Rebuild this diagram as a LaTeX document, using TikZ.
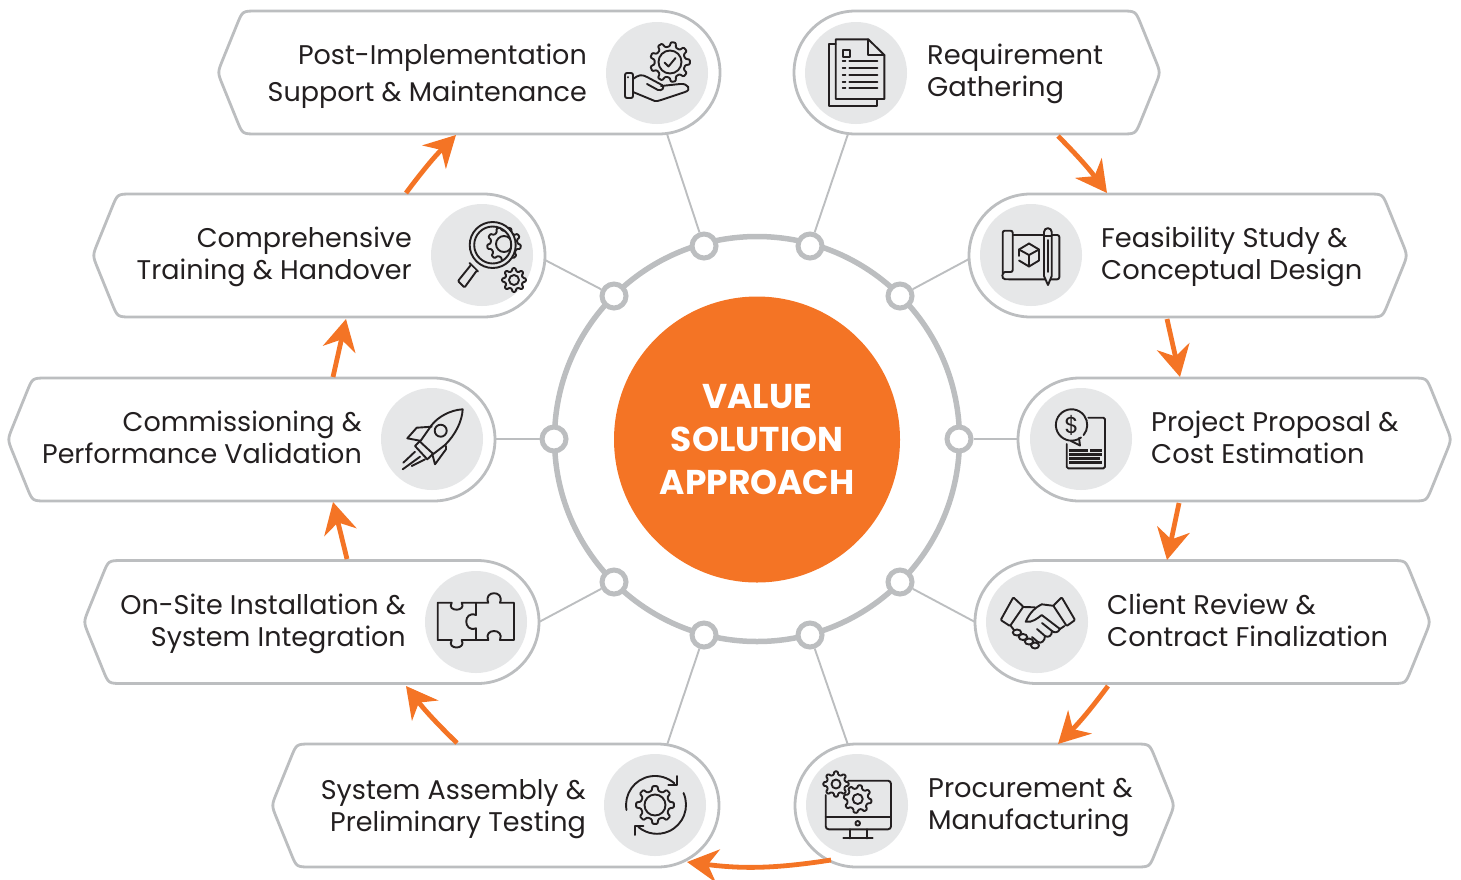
\documentclass[tikz,border=0pt]{standalone}
\usepackage{fontspec}
\setmainfont[FakeStretch=1.012]{Poppins}
\newfontfamily\titlefont{Poppins}
\usetikzlibrary{arrows.meta,calc}
\definecolor{ringgray}{HTML}{BCBEC0}
\definecolor{icobg}{HTML}{E6E7E8}
\definecolor{accent}{HTML}{F47425}
\definecolor{ink}{HTML}{231F20}
\tikzset{
  pillbox/.style={draw=ringgray,line width=2.8pt,fill=white,line join=round},
  iconbase/.style={circle,fill=icobg,minimum size=102pt,inner sep=0pt},
  hub/.style={circle,draw=ringgray,line width=5pt,fill=white,minimum size=24pt,inner sep=0pt},
  spoke/.style={draw=ringgray,line width=1.9pt},
  flow/.style={draw=accent,line width=4.8pt,-{Stealth[length=31pt,width=33pt,inset=10pt]}},
  ico/.style={draw=ink,line width=1.9pt,line join=round,line cap=round},
  lbl/.style={inner sep=0pt,text=ink},
  lblL/.style={lbl,anchor=west,align=left,font=\fontsize{27}{32}\selectfont},
  lblR/.style={lbl,anchor=east,align=right,font=\fontsize{27}{32}\selectfont\titlefont},
}
% pill with round end at right, tip at left
\newcommand\pillR[3]{%tip x, right x, centre y
  \draw[pillbox] (#2-61.5,#3-61.5) -- (#1+38.5,#3-61.5) .. controls (#1+24.5,#3-61.5) .. (#1+19.2,#3-48.5)
    -- (#1+4.8,#3-13) .. controls (#1-0.5,#3) .. (#1+4.8,#3+13)
    -- (#1+19.2,#3+48.5) .. controls (#1+24.5,#3+61.5) .. (#1+38.5,#3+61.5)
    -- (#2-61.5,#3+61.5) arc[start angle=90,end angle=-90,radius=61.5] -- cycle;}
\newcommand\pillL[3]{%left x, tip x, centre y
  \draw[pillbox] (#1+61.5,#3-61.5) -- (#2-38.5,#3-61.5) .. controls (#2-24.5,#3-61.5) .. (#2-19.2,#3-48.5)
    -- (#2-4.8,#3-13) .. controls (#2+0.5,#3) .. (#2-4.8,#3+13)
    -- (#2-19.2,#3+48.5) .. controls (#2-24.5,#3+61.5) .. (#2-38.5,#3+61.5)
    -- (#1+61.5,#3+61.5) arc[start angle=90,end angle=270,radius=61.5] -- cycle;}
% gear outline
\newcommand\gearicon[6]{%x,y,ro,ri,teeth,rot
  \pgfmathsetmacro\gs{360/#5}\pgfmathtruncatemacro\gn{#5-1}
  \draw[ico,fill=icobg,rounded corners=0.9pt] ({#1+#4*cos(#6-0.30*\gs)},{#2+#4*sin(#6-0.30*\gs)})
   \foreach \gi in {0,...,\gn}{
    -- ({#1+#4*cos(#6+\gi*\gs-0.30*\gs)},{#2+#4*sin(#6+\gi*\gs-0.30*\gs)})
    -- ({#1+#3*cos(#6+\gi*\gs-0.17*\gs)},{#2+#3*sin(#6+\gi*\gs-0.17*\gs)})
    -- ({#1+#3*cos(#6+\gi*\gs+0.17*\gs)},{#2+#3*sin(#6+\gi*\gs+0.17*\gs)})
    -- ({#1+#4*cos(#6+\gi*\gs+0.30*\gs)},{#2+#4*sin(#6+\gi*\gs+0.30*\gs)})
   } -- cycle;}
\begin{document}
\begin{tikzpicture}[x=1pt,y=-1pt]
\useasboundingbox (0,0) rectangle (1461,879);
% ring
\node[circle,draw=ringgray,line width=5.5pt,minimum size=405pt,inner sep=0pt] (ring) at (757,439) {};
% hubs
\node[hub] (h1) at (704,246) {};
\node[hub] (h2) at (810,246) {};
\node[hub] (h3) at (900,296) {};
\node[hub] (h4) at (959,439) {};
\node[hub] (h5) at (900,582) {};
\node[hub] (h6) at (810,635) {};
\node[hub] (h7) at (704,635) {};
\node[hub] (h8) at (614,582) {};
\node[hub] (h9) at (554,439) {};
\node[hub] (h10) at (614,296) {};
% spoke ends
\coordinate (s1) at (667,134); \coordinate (s2) at (848,134);
\coordinate (s3) at (969,259); \coordinate (s4) at (1018,439);
\coordinate (s5) at (975,622); \coordinate (s6) at (848,745);
\coordinate (s7) at (667,745); \coordinate (s8) at (539,622);
\coordinate (s9) at (495,439); \coordinate (s10) at (545,260);
\foreach \i in {1,...,10} \draw[spoke] (h\i) -- (s\i);
% centre
\node[circle,fill=accent,minimum size=286pt,inner sep=0pt,text=white,align=center,font=\fontsize{34.4}{42.6}\selectfont\titlefont\bfseries] (core) at (757,439.5) {VALUE\\SOLUTION\\APPROACH};
% pills
\pillR{218}{720}{72.5}
\pillR{93}{545}{255.5}
\pillR{8}{495}{439.5}
\pillR{84}{539}{622}
\pillR{272}{719}{805.5}
\pillL{794}{1160}{72.5}
\pillL{969}{1407}{255.5}
\pillL{1018}{1451}{439.5}
\pillL{975}{1430}{622}
\pillL{795}{1174}{805.5}
% icon discs
\node[iconbase] (i1) at (657,73) {};
\node[iconbase] (i2) at (856,73) {};
\node[iconbase] (i3) at (1031,255) {};
\node[iconbase] (i4) at (1081,439) {};
\node[iconbase] (i5) at (1037,622) {};
\node[iconbase] (i6) at (857,805) {};
\node[iconbase] (i7) at (655,805) {};
\node[iconbase] (i8) at (476,622) {};
\node[iconbase] (i9) at (432,439) {};
\node[iconbase] (i10) at (482,255) {};
% labels
\node[lblR,font=\fontsize{27}{37}\selectfont\titlefont] (t1) at (587,76.5) {Post-Implementation\\Support \& Maintenance};
\node[lblR] (t2) at (412,257) {Comprehensive\\Training \& Handover};
\node[lblR] (t3) at (362,437) {Commissioning \&\\Performance Validation};
\node[lblR] (t4) at (406,623.5) {On-Site Installation \&\\System Integration};
\node[lblR] (t5) at (586,809) {System Assembly \&\\Preliminary Testing};
\node[lblL] (t6) at (927,74) {Requirement\\Gathering};
\node[lblL] (t7) at (1101,257) {Feasibility Study \&\\Conceptual Design};
\node[lblL] (t8) at (1151,437) {Project Proposal \&\\Cost Estimation};
\node[lblL] (t9) at (1107,620) {Client Review \&\\Contract Finalization};
\node[lblL] (t10) at (928,807.5) {Procurement \&\\Manufacturing};
% flow arrows
\coordinate (a1s) at (1058,136); \coordinate (a1e) at (1107,193);
\coordinate (a2s) at (1167,319); \coordinate (a2e) at (1180,377);
\coordinate (a3s) at (1179,503); \coordinate (a3e) at (1167,560);
\coordinate (a4s) at (1108,686); \coordinate (a4e) at (1058,744);
\coordinate (a5s) at (831,860); \coordinate (a5e) at (687,862);
\coordinate (a6s) at (457,743); \coordinate (a6e) at (406,686);
\coordinate (a7s) at (347,559); \coordinate (a7e) at (333,502);
\coordinate (a8s) at (333,377); \coordinate (a8e) at (346,319);
\coordinate (a9s) at (406,193); \coordinate (a9e) at (456,135);
\draw[flow] (a1s) to[bend left=4] (a1e);
\draw[flow] (a2s) -- (a2e);
\draw[flow] (a3s) -- (a3e);
\draw[flow] (a4s) to[bend left=4] (a4e);
\draw[flow] (a5s) to[bend left=8] (a5e);
\draw[flow] (a6s) to[bend left=4] (a6e);
\draw[flow] (a7s) -- (a7e);
\draw[flow] (a8s) -- (a8e);
\draw[flow] (a9s) to[bend left=4] (a9e);
% --- icon: hand & gear
\gearicon{670}{62}{20}{15.5}{9}{0}
\draw[ico] (670,62) circle (11.5);
\draw[ico] (664.5,62.5) -- (668.5,66.5) -- (675.5,58);
\draw[ico,rounded corners=2pt] (625,73) rectangle (633,98);
\draw[ico] (628,77) -- (628,77.5);
\draw[ico] (633,79) .. controls (638,75) and (642,74) .. (647,77) -- (662,85) .. controls (665,88) and (662,91) .. (658,90) -- (647,84);
\draw[ico] (661,86) -- (680,84) .. controls (688,83) and (692,90) .. (685,92) -- (661,100) .. controls (656,102) and (653,101) .. (650,99) -- (633,92);
% --- icon: documents
\draw[ico] (835.7,44.3) -- (829,44.3) -- (829,106) -- (877.3,106) -- (877.3,99);
\draw[ico] (835.7,39.3) -- (868.3,39.3) -- (884.3,55) -- (884.3,99) -- (835.7,99) -- cycle;
\draw[ico] (868.3,39.3) -- (868.3,55) -- (884.3,55);
\draw[ico] (842.7,50) rectangle (850,57.3);
\foreach \yy in {61.3,68,75,81.7,88.3} {
  \draw[ico] (842.7,\yy) -- (845.5,\yy);
  \draw[ico] (849.3,\yy) -- (877.3,\yy);}
% --- icon: magnifier & gears
\gearicon{504}{244}{17}{13.5}{9}{10}
\draw[ico] (504,244) circle (8);
\draw[line width=4pt,draw=icobg] (492.7,245) circle (21);
\draw[ico] (492.7,245) circle (23);
\draw[ico] (492.7,245) circle (18.5);
\draw[ico] (469.5,263) -- (478,271.5);
\draw[ico,rounded corners=1pt,fill=icobg] (470.5,265.5) -- (458,281) -- (464.5,287.5) -- (476.5,271);
\gearicon{514}{280}{12}{9}{8}{0}
\draw[ico] (514,280) circle (5);
% --- icon: scroll with cube and pencil
\draw[ico,rounded corners=2pt] (1012.7,235) -- (1059.3,235) -- (1059.3,279.3) -- (1007,279.3) .. controls (1001,279) and (1002,272) .. (1007,272) -- (1012.7,272) -- (1012.7,230.7) -- (1002.7,230.7) -- (1002.7,275);
\draw[ico] (1029,243.5) -- (1039,249.5) -- (1039,260.5) -- (1029,266.5) -- (1019,260.5);
\draw[ico] (1019,256) -- (1019,249.5) -- (1029,243.5);
\draw[ico] (1019,249.5) -- (1029,255) -- (1039,249.5);
\draw[ico] (1029,255) -- (1029,266.5);
\draw[ico,fill=icobg] (1044,232) arc[start angle=180,end angle=360,radius=3.85] -- (1051.7,276) -- (1048,285) -- (1044,276) -- cycle;
\draw[ico] (1044,236) -- (1051.7,236) (1047.8,240) -- (1047.8,272);
% --- icon: quote with dollar
\draw[ico,rounded corners=1.5pt] (1088.3,417.7) -- (1105,417.7) -- (1105,468.3) -- (1066.7,468.3) -- (1066.7,444);
\draw[ico] (1081,437.5) arc[start angle=53,end angle=400,radius=15.7] ;
\draw[ico] (1071,441) -- (1080,445.5) -- (1079,438);
\node[text=ink,inner sep=0pt,font=\fontsize{23}{23}\selectfont] (dollar) at (1071.7,425) {\$};
\foreach \yy/\xx in {454/1101.7,458.3/1100,462.6/1101.7} \draw[ink,line width=3pt] (1069.3,\yy) -- (\xx,\yy);
\draw[ink,line width=3pt] (1069.3,450) -- (1088,450) (1090,450) -- (1101.7,450);
% --- icon: rocket
\draw[ico] (431.7,425) .. controls (438,417) and (450,410) .. (462.7,409.3) .. controls (462,422) and (455,435) .. (445,445) -- (433.3,454) -- (420,441.7) -- cycle;
\draw[ico] (440.7,430.7) circle (6);
\draw[ico] (420,441) -- (415,446) -- (427.3,459.3) -- (433.3,453.5);
\draw[ico] (431.7,426.7) -- (416.7,427.7) -- (407.3,438.3) -- (420,440.7);
\draw[ico] (446,446) -- (446,449.3) -- (435,464.3) -- (432.3,454);
\draw[ico] (415,451.7) -- (403.3,462.7) (420,456.7) -- (402.7,469.3) (425,459.3) -- (411.7,466);
% --- icon: puzzle
\draw[ico] (437.7,602.7) -- (451.7,602.7) .. controls (446,612) and (467,612) .. (461.7,602.7) -- (476,602.7) -- (476,615) .. controls (463,610) and (463,633) .. (476,628.3) -- (476,640) -- (461.7,640) .. controls (467,650) and (446,650) .. (451.7,640) -- (437.7,640) -- cycle;
\draw[ico] (476,602.7) -- (488.3,602.7) .. controls (483,590) and (505,590) .. (500,602.7) -- (514,602.7) -- (514,640) -- (500,640) .. controls (505,628) and (483,628) .. (488.3,640) -- (476,640);
% --- icon: handshake
\draw[ico,rounded corners=1pt] (1013.3,597.3) -- (1023.3,606.7) -- (1010,626) -- (1000.7,620) -- cycle;
\draw[ico,rounded corners=1pt] (1061.7,597.3) -- (1053.3,605.7) -- (1066.7,626) -- (1075,620) -- cycle;
\draw[ico] (1023.3,607) -- (1035,607.3);
\draw[ico] (1052.7,605.7) -- (1041.7,604.3) .. controls (1036,607) and (1030,612) .. (1025.7,621.7) .. controls (1032,623) and (1038,618) .. (1041.7,615) -- (1060,629) .. controls (1058,633) and (1054,633) .. (1052,631) -- (1042,623);
\draw[ico] (1060,629) -- (1064.5,626);
\draw[ico] (1052,631) .. controls (1052,636) and (1048,638) .. (1045,636) -- (1037,629);
\draw[ico] (1045,636) .. controls (1045,641) and (1041,644) .. (1038,642) -- (1032,637);
\foreach \xx/\yy/\rr in {1017/632.5/4.2,1023/637/4.2,1029/641.5/4.2,1035/645.5/4} {
  \draw[ico,fill=icobg] (\xx,\yy) ellipse [x radius=\rr,y radius=3];}
\draw[ico] (1010.5,625.5) -- (1014,630);
% --- icon: monitor & gears
\draw[ico,rounded corners=3pt] (848.3,780.7) -- (891,780.7) -- (891,829.3) -- (825.7,829.3) -- (825.7,795);
\draw[ico] (825.7,817.3) -- (891,817.3);
\draw[ico] (857.7,823.3) circle (2.3);
\draw[ico] (850,829.3) -- (850,838.3) (866.7,829.3) -- (866.7,838.3) (843.3,838.3) -- (872.7,838.3);
\gearicon{836}{784}{12.7}{9.5}{8}{0}
\draw[ico] (836,784) circle (4.5);
\gearicon{857.7}{799}{14}{10.7}{8}{10}
\draw[ico] (857.7,799) circle (5);
% --- icon: gear with cycle arrows
\gearicon{655}{805}{19}{14.5}{8}{0}
\draw[ico] (655,805) circle (10.5);
\draw[ico] (626.5,810) arc[start angle=170,end angle=312,radius=29];
\draw[ico] (677.3,776) -- (677.3,785) -- (668.3,785);
\draw[ico] (683.5,793) arc[start angle=-24,end angle=130,radius=29];
\draw[ico] (634.7,835) -- (634.7,826) -- (643.3,826);
\end{tikzpicture}
\end{document}
